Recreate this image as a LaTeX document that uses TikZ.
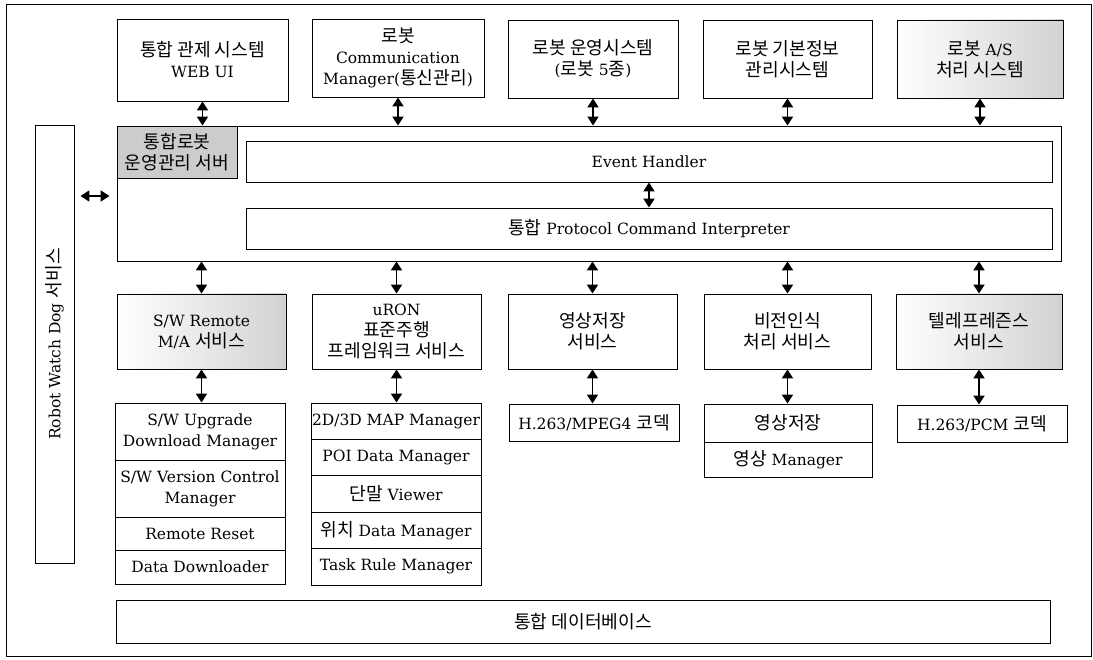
\documentclass[tikz,border=0pt]{standalone}
\usepackage{fontspec}
\setmainfont{DejaVu Serif}
\newfontfamily\kr[Scale=1.17]{Noto Sans CJK KR}
\usetikzlibrary{arrows.meta,calc}
\tikzset{
  bx/.style={draw, line width=0.9pt, align=center, inner sep=0pt, text=black},
  stip/.style={left color=white, right color=gray!35},
  dark/.style={fill=gray!40},
  dbl/.style={line width=1.9pt, arrows={Triangle[length=9pt,width=11pt]-Triangle[length=9pt,width=11pt]}},
}
\begin{document}
\begin{tikzpicture}[x=1pt,y=-1pt,font=\fontsize{15.5}{21}\selectfont]
\path[use as bounding box] (0,0) rectangle (1093,660);
\node[draw, line width=0.9pt, minimum width=1085, minimum height=652, inner sep=0pt] (frame) at (548.5,330) {};
% top systems
\node[bx, minimum width=171, minimum height=82] (t1) at (202.5,60) {{\kr 통합 관제 시스템}\\WEB UI};
\node[bx, minimum width=172, minimum height=78] (t2) at (398,58) {{\kr 로봇}\\Communication\\Manager({\kr 통신관리})};
\node[bx, minimum width=170, minimum height=78] (t3) at (593,59) {{\kr 로봇 운영시스템}\\({\kr 로봇} 5{\kr 종})};
\node[bx, minimum width=169, minimum height=78] (t4) at (787.5,59) {{\kr 로봇 기본정보}\\{\kr 관리시스템}};
\node[bx, stip, minimum width=166, minimum height=78] (t5) at (980,59) {{\kr 로봇} A/S\\{\kr 처리 시스템}};
% main server
\node[bx, minimum width=944, minimum height=135] (main) at (589,193.5) {};
\node[bx, dark, minimum width=120, minimum height=52] (srv) at (177,152) {{\kr 통합로봇}\\{\kr 운영관리 서버}};
\node[bx, minimum width=806, minimum height=41] (eh) at (649,161.5) {Event Handler};
\node[bx, minimum width=806, minimum height=41] (pci) at (649,228.5) {{\kr 통합} Protocol Command Interpreter};
% watchdog
\node[bx, minimum width=39, minimum height=438] (wd) at (54.5,344) {};
\node[rotate=90] (wdt) at (wd.center) {Robot Watch Dog {\kr 서비스}};
% services
\node[bx, stip, minimum width=169, minimum height=75] (s1) at (201.5,331.5) {S/W Remote\\M/A {\kr 서비스}};
\node[bx, minimum width=169, minimum height=75] (s2) at (396.5,331.5) {uRON\\{\kr 표준주행}\\{\kr 프레임워크 서비스}};
\node[bx, minimum width=169, minimum height=75] (s3) at (592.5,331.5) {{\kr 영상저장}\\{\kr 서비스}};
\node[bx, minimum width=167, minimum height=75] (s4) at (787.5,331.5) {{\kr 비전인식}\\{\kr 처리 서비스}};
\node[bx, stip, minimum width=166, minimum height=75] (s5) at (979,331.5) {{\kr 텔레프레즌스}\\{\kr 서비스}};
% list 1
\node[bx, minimum width=170, minimum height=57] (l1a) at (200,431.5) {S/W Upgrade\\Download Manager};
\node[bx, minimum width=170, minimum height=57] (l1b) at (200,488.5) {S/W Version Control\\Manager};
\node[bx, minimum width=170, minimum height=33] (l1c) at (200,533.5) {Remote Reset};
\node[bx, minimum width=170, minimum height=34] (l1d) at (200,567) {Data Downloader};
% list 2
\node[bx, minimum width=170, minimum height=36.4] (l2a) at (396,421.2) {2D/3D MAP Manager};
\node[bx, minimum width=170, minimum height=36.4] (l2b) at (396,457.6) {POI Data Manager};
\node[bx, minimum width=170, minimum height=36.4] (l2c) at (396,494.0) {{\kr 단말} Viewer};
\node[bx, minimum width=170, minimum height=36.4] (l2d) at (396,530.4) {{\kr 위치} Data Manager};
\node[bx, minimum width=170, minimum height=36.4] (l2e) at (396,566.8) {Task Rule Manager};
% codecs
\node[bx, minimum width=170, minimum height=37] (c3) at (594,422.5) {H.263/MPEG4 {\kr 코덱}};
\node[bx, minimum width=168, minimum height=38] (l4a) at (788,423) {{\kr 영상저장}};
\node[bx, minimum width=168, minimum height=35] (l4b) at (788,459.5) {{\kr 영상} Manager};
\node[bx, minimum width=170, minimum height=37] (c5) at (982,423.5) {H.263/PCM {\kr 코덱}};
% database
\node[bx, minimum width=934, minimum height=43] (db) at (583,621.5) {{\kr 통합 데이터베이스}};
% arrows
\foreach \t in {t1,t2,t3,t4,t5}{
  \draw[dbl] (\t.south) -- (\t.south |- main.north);
}
\foreach \s in {s1,s2,s3,s4,s5}{
  \draw[dbl] (\s.north |- main.south) -- (\s.north);
}
\draw[dbl] (s1.south) -- (s1.south |- l1a.north);
\draw[dbl] (s2.south) -- (s2.south |- l2a.north);
\draw[dbl] (s3.south) -- (s3.south |- c3.north);
\draw[dbl] (s4.south) -- (s4.south |- l4a.north);
\draw[dbl] (s5.south) -- (s5.south |- c5.north);
\draw[dbl] (eh.south) -- (pci.north);
\coordinate (wy) at (0,196);
\draw[dbl, shorten <=6pt, shorten >=7pt] (wd.east |- wy) -- (main.west |- wy);
\end{tikzpicture}
\end{document}
